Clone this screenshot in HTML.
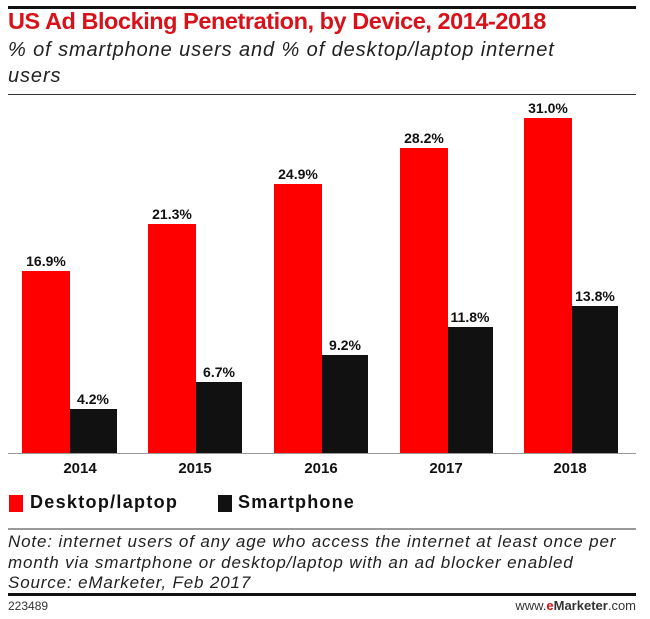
<!DOCTYPE html><html><head><style>
body{margin:0;background:#fff;width:650px;height:619px;overflow:hidden;position:relative;font-family:"Liberation Sans",sans-serif}
.a{position:absolute;white-space:nowrap}
.t{left:8px;top:8px;font-size:23.5px;font-weight:bold;color:#d8121a;letter-spacing:-0.45px}
.s{left:8px;top:37px;font-size:20px;font-style:italic;color:#222;line-height:26px;letter-spacing:0.9px}
.r{background:#f00}.k{background:#111}
.v{font-size:14px;font-weight:bold;color:#111;width:60px;text-align:center}
.y{font-size:15px;font-weight:bold;color:#111;width:80px;text-align:center;top:460px}
.n{left:8px;top:532px;font-size:17px;font-style:italic;color:#222;line-height:20.5px;letter-spacing:0.85px}
</style></head><body>
<div class="a" style="left:8px;top:6px;width:628px;height:3px;background:#111"></div>
<div class="a t">US Ad Blocking Penetration, by Device, 2014-2018</div>
<div class="a s">% of smartphone users and % of desktop/laptop internet<br>users</div>
<div class="a" style="left:8px;top:94px;width:628px;height:1px;background:#333"></div>

<div class="a r" style="left:22px;top:271px;width:48px;height:183px"></div>
<div class="a k" style="left:70px;top:409px;width:47px;height:45px"></div>
<div class="a r" style="left:148px;top:224px;width:48px;height:230px"></div>
<div class="a k" style="left:196px;top:382px;width:46px;height:72px"></div>
<div class="a r" style="left:274px;top:184px;width:48px;height:270px"></div>
<div class="a k" style="left:322px;top:355px;width:46px;height:99px"></div>
<div class="a r" style="left:400px;top:148px;width:48px;height:306px"></div>
<div class="a k" style="left:448px;top:327px;width:45px;height:127px"></div>
<div class="a r" style="left:524px;top:118px;width:48px;height:336px"></div>
<div class="a k" style="left:572px;top:306px;width:46px;height:148px"></div>
<div class="a" style="left:8px;top:453px;width:628px;height:1px;background:#999"></div>

<div class="a v" style="left:16px;top:253px">16.9%</div>
<div class="a v" style="left:63px;top:391px">4.2%</div>
<div class="a v" style="left:142px;top:206px">21.3%</div>
<div class="a v" style="left:189px;top:364px">6.7%</div>
<div class="a v" style="left:268px;top:166px">24.9%</div>
<div class="a v" style="left:315px;top:337px">9.2%</div>
<div class="a v" style="left:394px;top:130px">28.2%</div>
<div class="a v" style="left:440px;top:309px">11.8%</div>
<div class="a v" style="left:518px;top:100px">31.0%</div>
<div class="a v" style="left:565px;top:288px">13.8%</div>

<div class="a y" style="left:40px">2014</div>
<div class="a y" style="left:155px">2015</div>
<div class="a y" style="left:281px">2016</div>
<div class="a y" style="left:406px">2017</div>
<div class="a y" style="left:530px">2018</div>

<div class="a r" style="left:9px;top:495px;width:14px;height:17px"></div>
<div class="a" style="left:30px;top:492px;font-size:18px;font-weight:bold;color:#111;letter-spacing:1.3px">Desktop/laptop</div>
<div class="a k" style="left:218px;top:495px;width:14px;height:17px"></div>
<div class="a" style="left:238px;top:492px;font-size:18px;font-weight:bold;color:#111;letter-spacing:1.2px">Smartphone</div>

<div class="a" style="left:8px;top:528px;width:628px;height:2px;background:#999"></div>
<div class="a n">Note: internet users of any age who access the internet at least once per<br>month via smartphone or desktop/laptop with an ad blocker enabled<br>Source: eMarketer, Feb 2017</div>
<div class="a" style="left:8px;top:593px;width:628px;height:3px;background:#111"></div>
<div class="a" style="left:8px;top:599px;font-size:12px;color:#333">223489</div>
<div class="a" style="right:14px;top:598px;font-size:13px;color:#333">www.<b style="color:#d8121a">e</b><b>Marketer</b>.com</div>
</body></html>
